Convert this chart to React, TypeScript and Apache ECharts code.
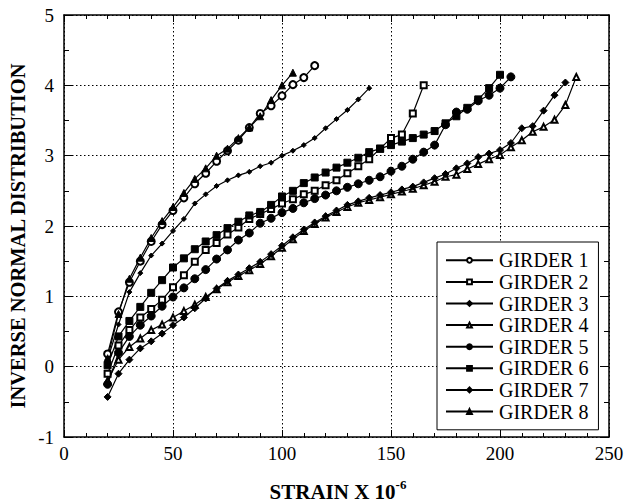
import React, { useEffect, useRef } from "react";
import * as echarts from "echarts";

// Strain values (x 10^-6) shared by all girders, step 5
const STRAIN = [20, 25, 30, 35, 40, 45, 50, 55, 60, 65, 70, 75, 80, 85, 90, 95, 100, 105, 110, 115, 120, 125, 130, 135, 140, 145, 150, 155, 160, 165, 170, 175, 180, 185, 190, 195, 200, 205, 210, 215, 220, 225, 230, 235];

const GIRDER1 = [0.18, 0.78, 1.2, 1.5, 1.78, 2.02, 2.22, 2.4, 2.6, 2.75, 2.92, 3.07, 3.22, 3.4, 3.6, 3.71, 3.85, 4.01, 4.11, 4.28];
const GIRDER2 = [-0.1, 0.3, 0.52, 0.7, 0.82, 0.95, 1.13, 1.3, 1.49, 1.66, 1.76, 1.88, 1.98, 2.1, 2.17, 2.24, 2.32, 2.38, 2.45, 2.5, 2.58, 2.65, 2.75, 2.85, 2.95, 3.1, 3.25, 3.3, 3.6, 4.0];
const GIRDER3 = [0.1, 0.6, 1.06, 1.33, 1.58, 1.75, 1.93, 2.1, 2.32, 2.45, 2.57, 2.65, 2.72, 2.77, 2.85, 2.9, 3.0, 3.07, 3.15, 3.25, 3.39, 3.52, 3.65, 3.8, 3.96];
const GIRDER4 = [-0.2, 0.1, 0.28, 0.4, 0.52, 0.6, 0.7, 0.79, 0.88, 0.99, 1.1, 1.2, 1.29, 1.37, 1.46, 1.57, 1.69, 1.81, 1.93, 2.03, 2.12, 2.2, 2.27, 2.33, 2.37, 2.41, 2.45, 2.49, 2.53, 2.58, 2.63, 2.7, 2.73, 2.81, 2.88, 2.95, 3.01, 3.12, 3.22, 3.34, 3.41, 3.51, 3.72, 4.12];
const GIRDER5 = [-0.25, 0.2, 0.43, 0.59, 0.72, 0.86, 0.99, 1.12, 1.25, 1.38, 1.53, 1.66, 1.8, 1.9, 2.04, 2.11, 2.19, 2.25, 2.33, 2.39, 2.44, 2.5, 2.55, 2.6, 2.65, 2.7, 2.78, 2.85, 2.95, 3.05, 3.15, 3.44, 3.62, 3.66, 3.78, 3.86, 3.96, 4.12];
const GIRDER6 = [0.02, 0.43, 0.65, 0.85, 1.05, 1.23, 1.41, 1.54, 1.67, 1.78, 1.87, 1.97, 2.06, 2.15, 2.2, 2.3, 2.42, 2.5, 2.61, 2.69, 2.76, 2.83, 2.9, 2.97, 3.05, 3.1, 3.15, 3.2, 3.25, 3.3, 3.35, 3.46, 3.56, 3.68, 3.8, 3.96, 4.15];
const GIRDER7 = [-0.43, -0.1, 0.1, 0.26, 0.36, 0.47, 0.59, 0.7, 0.83, 0.97, 1.11, 1.22, 1.31, 1.4, 1.49, 1.6, 1.72, 1.84, 1.95, 2.05, 2.14, 2.22, 2.3, 2.35, 2.4, 2.44, 2.48, 2.52, 2.56, 2.62, 2.68, 2.74, 2.82, 2.89, 2.98, 3.03, 3.08, 3.18, 3.39, 3.42, 3.64, 3.86, 4.04];
const GIRDER8 = [0.12, 0.75, 1.25, 1.55, 1.83, 2.07, 2.27, 2.47, 2.67, 2.82, 3.0, 3.1, 3.25, 3.4, 3.56, 3.79, 4.0, 4.18];

const NAMES = ["GIRDER 1", "GIRDER 2", "GIRDER 3", "GIRDER 4", "GIRDER 5", "GIRDER 6", "GIRDER 7", "GIRDER 8"];
const VALUES = [GIRDER1, GIRDER2, GIRDER3, GIRDER4, GIRDER5, GIRDER6, GIRDER7, GIRDER8];
const SYMBOLS = ["emptyCircle", "emptyRect", "diamond", "emptyTriangle", "circle", "rect", "diamond", "triangle"];
const SIZES = [7, 6, 5, 6, 8, 7, 7, 7];

const FONT = '"Liberation Serif", "Times New Roman", serif';

export default function App() {
  const ref = useRef<HTMLDivElement>(null);
  useEffect(() => {
    if (!ref.current) return;
    const chart = echarts.init(ref.current, null, { renderer: "svg" });
    const axisCommon = {
      type: "value",
      axisLine: { show: true, onZero: false, lineStyle: { color: "#000", width: 1.5 } },
      axisTick: { show: true, inside: true, length: 7, lineStyle: { color: "#000", width: 1 } },
      minorTick: { show: true, length: 4, lineStyle: { color: "#000", width: 1 } },
      minorSplitLine: { show: false },
    };
    const series = VALUES.map((vals, i) => ({
      name: NAMES[i],
      type: "line",
      data: vals.map((v, j) => [STRAIN[j], v]),
      symbol: SYMBOLS[i],
      symbolSize: SIZES[i],
      showAllSymbol: true,
      color: "#000",
      itemStyle: { color: "#000", borderColor: "#000", borderWidth: 1 },
      lineStyle: { color: "#000", width: 1.2 },
      emphasis: { disabled: true },
      z: 3,
    }));
    chart.setOption({
      animation: false,
      backgroundColor: "#fff",
      grid: { left: 64, top: 15, width: 545, height: 422 },
      xAxis: [
        {
          ...axisCommon,
          min: 0,
          max: 250,
          interval: 50,
          position: "bottom",
          minorTick: { ...axisCommon.minorTick, splitNumber: 5 },
          axisLabel: { color: "#000", fontFamily: FONT, fontSize: 19, margin: 7 },
          splitLine: { show: true, lineStyle: { color: "#000", type: [1.5, 2.5], width: 1 } },
        },
        {
          ...axisCommon,
          min: 0,
          max: 250,
          interval: 50,
          position: "top",
          minorTick: { ...axisCommon.minorTick, splitNumber: 5 },
          axisLabel: { show: false },
          splitLine: { show: false },
        },
      ],
      yAxis: [
        {
          ...axisCommon,
          min: -1,
          max: 5,
          interval: 1,
          position: "left",
          axisTick: { ...axisCommon.axisTick, length: 9 },
          minorTick: { ...axisCommon.minorTick, splitNumber: 2, length: 5 },
          axisLabel: { color: "#000", fontFamily: FONT, fontSize: 19, margin: 10 },
          splitLine: { show: true, lineStyle: { color: "#000", type: [1.5, 2.5], width: 1 } },
        },
        {
          ...axisCommon,
          min: -1,
          max: 5,
          interval: 1,
          position: "right",
          axisTick: { ...axisCommon.axisTick, length: 9 },
          minorTick: { ...axisCommon.minorTick, splitNumber: 2, length: 5 },
          axisLabel: { show: false },
          splitLine: { show: false },
        },
      ],
      legend: {
        data: NAMES,
        orient: "vertical",
        left: 437,
        top: 242,
        width: 164,
        padding: [8, 10, 8, 8],
        itemWidth: 47,
        itemHeight: 6,
        itemGap: 1,
        borderColor: "#000",
        borderWidth: 1,
        borderRadius: 0,
        backgroundColor: "#fff",
        selectedMode: false,
        textStyle: { color: "#000", fontFamily: FONT, fontSize: 20, lineHeight: 20.6, padding: [0, 0, 0, 1] },
        z: 10,
      },
      graphic: [
        {
          type: "text",
          x: 18,
          y: 236,
          rotation: Math.PI / 2,
          style: {
            text: "INVERSE NORMAL DISTRIBUTION",
            fontFamily: FONT,
            fontWeight: "bold",
            fontSize: 20.5,
            fill: "#000",
            align: "center",
            verticalAlign: "middle",
          },
        },
        {
          type: "text",
          x: 338,
          y: 490,
          style: {
            text: "{a|STRAIN X 10}{b|-6}",
            fill: "#000",
            align: "center",
            verticalAlign: "middle",
            rich: {
              a: { fontFamily: FONT, fontWeight: "bold", fontSize: 21, lineHeight: 24, verticalAlign: "bottom", fill: "#000" },
              b: { fontFamily: FONT, fontWeight: "bold", fontSize: 13, lineHeight: 24, verticalAlign: "top", fill: "#000" },
            },
          },
        },
      ],
      series,
    });
    return () => chart.dispose();
  }, []);
  return (
    <div
      ref={ref}
      style={{ position: "fixed", left: 0, top: 0, width: 627, height: 504, background: "#fff" }}
    />
  );
}
